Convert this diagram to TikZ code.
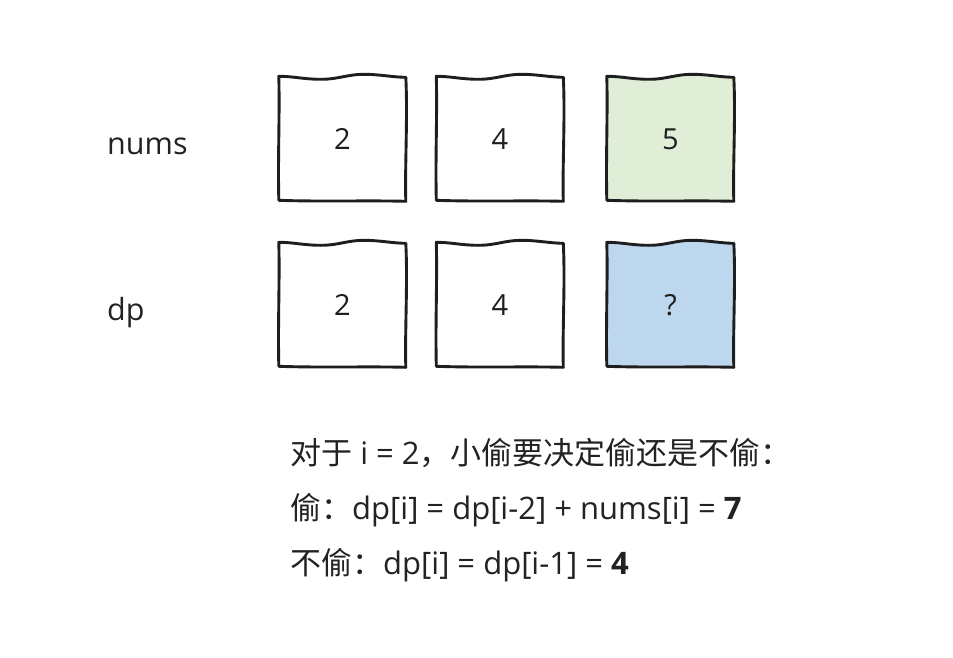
\documentclass[tikz,border=0pt]{standalone}
\usepackage{fontspec}
\setmainfont{Open Sans}
\newfontfamily\cjk{Noto Sans CJK SC}
\usetikzlibrary{backgrounds}
\definecolor{ink}{HTML}{1E1E1E}
\definecolor{txt}{HTML}{222222}
\definecolor{cellgreen}{RGB}{224,238,216}
\definecolor{cellblue}{RGB}{189,215,238}
\tikzset{
  cell/.style={minimum width=127pt, minimum height=125pt, inner sep=0pt, text=ink,
    font=\fontsize{29}{34}\selectfont},
  sketch/.style={draw=ink, line width=2.9pt, line cap=round, line join=round},
  label/.style={anchor=base west, inner sep=0pt, text=txt, font=\fontsize{30.5}{36}\selectfont},
  line/.style={anchor=base west, inner sep=0pt, text=txt, font=\fontsize{31}{36}\selectfont},
}
\newcommand\sketchrect[2]{%
  \begin{pgfonlayer}{background}
  \begin{scope}[shift={(#1.north west)}]
    \filldraw[sketch, fill=#2] (0,0) .. controls (15,0) and (25,3) .. (42,3)
      .. controls (60,3) and (68,-2) .. (86,-2)
      .. controls (100,-2) and (115,1) .. (127,1)
      .. controls (129,40) and (126,90) .. (127,125)
      .. controls (90,124) and (40,125.5) .. (0,124)
      .. controls (-1,80) and (1,40) .. (0,0) -- cycle;
  \end{scope}
  \end{pgfonlayer}}
\begin{document}
\begin{tikzpicture}[x=1pt,y=-1pt]
\useasboundingbox (0,0) rectangle (953,658);
\node[label] (numslbl) at (107,154) {nums};
\node[label] (dplbl) at (107,320) {dp};
\node[cell] (n0) at (342.5,139) {2};
\node[cell] (n1) at (500,139) {4};
\node[cell] (n2) at (670.5,139) {5};
\node[cell] (d0) at (342.5,305) {2};
\node[cell] (d1) at (500,305) {4};
\node[cell] (d2) at (670.5,305) {?};
\sketchrect{n0}{white}
\sketchrect{n1}{white}
\sketchrect{n2}{cellgreen}
\sketchrect{d0}{white}
\sketchrect{d1}{white}
\sketchrect{d2}{cellblue}
\node[line] (l1) at (290,464) {{\cjk 对于} i = 2{\cjk ，小偷要决定偷还是不偷：}};
\node[line] (l2) at (290,519) {{\cjk 偷：}dp[i] = dp[i-2] + nums[i] = \textbf{7}};
\node[line] (l3) at (290,574) {{\cjk 不偷：}dp[i] = dp[i-1] = \textbf{4}};
\end{tikzpicture}
\end{document}
